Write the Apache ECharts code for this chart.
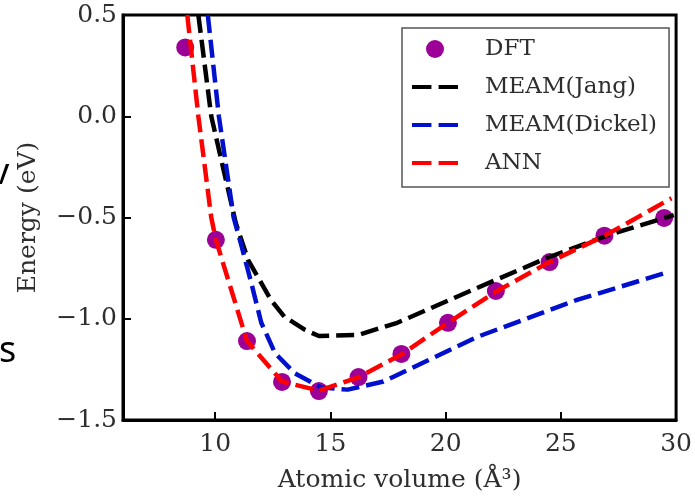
<!DOCTYPE html>
<html>
<head>
<meta charset="utf-8">
<script src="https://cdn.jsdelivr.net/npm/echarts@6/dist/echarts.min.js"></script>
<style>
  html, body { margin: 0; padding: 0; background: #fff; }
  #chart { width: 695px; height: 499px; }
</style>
</head>
<body>
<div id="chart"></div>
<script>
// values: [atomic volume, energy]
const dftPoints = [
  [8.7, 0.34], [10.03, -0.61], [11.38, -1.11], [12.9, -1.312], [14.5, -1.357], [16.22, -1.288],
  [18.08, -1.174], [20.1, -1.02], [22.18, -0.863], [24.51, -0.72], [26.89, -0.59], [29.48, -0.502]
];
const jangCurve = [
  [9.27, 0.5], [9.83, 0.0], [10.9, -0.53], [11.43, -0.71], [12.42, -0.907], [13.0, -0.99],
  [13.9, -1.055], [14.5, -1.085], [16.2, -1.08], [17.9, -1.02], [21.36, -0.848],
  [24.5, -0.695], [27.1, -0.586], [29.9, -0.488]
];
const dickelCurve = [
  [9.68, 0.5], [10.16, 0.0], [10.8, -0.5], [11.12, -0.63], [11.56, -0.82], [12.0, -1.02],
  [12.6, -1.17], [13.46, -1.27], [14.6, -1.34], [15.75, -1.35], [17.3, -1.31],
  [21.36, -1.09], [25.7, -0.907], [29.65, -0.77]
];
const annCurve = [
  [8.79, 0.5], [9.27, 0.0], [9.83, -0.5], [10.03, -0.61], [11.38, -1.11], [12.9, -1.31],
  [14.5, -1.355], [16.2, -1.29], [18.1, -1.175], [20.1, -1.02], [22.2, -0.865],
  [24.5, -0.72], [26.9, -0.59], [29.8, -0.405]
];
const xTicks = [10, 15, 20, 25, 30];
const seriesNames = ['DFT', 'MEAM(Jang)', 'MEAM(Dickel)', 'ANN'];

const serif = 'DejaVu Serif';
const textCol = '#2e2e2e';
const dash = [18, 7];
// two dashes, the way the legend handle is drawn
const dashIcon = 'path://M0,0h19v4H0z M26,0h19v4H26z';

const chart = echarts.init(document.getElementById('chart'));

function fmt(v) {
  const s = Math.abs(v).toFixed(1);
  return v < 0 ? '\u2212' + s : s;
}

function dashed(name, data, color) {
  return {
    name: name,
    type: 'line',
    data: data,
    symbol: 'none',
    color: color,
    lineStyle: { color: color, width: 4.5, type: dash },
    z: 3
  };
}

const option = {
  animation: false,
  backgroundColor: '#fff',
  grid: {
    left: 123, top: 15, right: 15, bottom: 79,
    show: true, borderColor: '#000', borderWidth: 3
  },
  xAxis: {
    type: 'value',
    min: 6, max: 30,
    name: 'Atomic volume (Å³)',
    nameLocation: 'middle',
    nameGap: 48,
    nameTextStyle: { fontFamily: serif, fontSize: 25, color: textCol },
    axisLine: { show: true, onZero: false, lineStyle: { color: '#000', width: 3 } },
    axisTick: { show: true, inside: true, length: 8, customValues: xTicks, lineStyle: { color: '#000', width: 2 } },
    axisLabel: { customValues: xTicks, fontFamily: serif, fontSize: 25, color: textCol, margin: 12 },
    splitLine: { show: false }
  },
  yAxis: {
    type: 'value',
    min: -1.5, max: 0.5, interval: 0.5,
    name: 'Energy (eV)',
    nameLocation: 'middle',
    nameGap: 82,
    nameTextStyle: { fontFamily: serif, fontSize: 25, color: textCol },
    axisLine: { show: true, onZero: false, lineStyle: { color: '#000', width: 3 } },
    axisTick: { show: true, inside: true, length: 8, lineStyle: { color: '#000', width: 2 } },
    axisLabel: { formatter: fmt, fontFamily: serif, fontSize: 25, color: textCol, margin: 6 },
    splitLine: { show: false }
  },
  legend: {
    orient: 'vertical',
    left: 402, top: 28,
    data: [
      { name: 'DFT', icon: 'circle' },
      { name: 'MEAM(Jang)', icon: dashIcon },
      { name: 'MEAM(Dickel)', icon: dashIcon },
      { name: 'ANN', icon: dashIcon }
    ],
    itemWidth: 46, itemHeight: 18,
    itemGap: 14,
    symbolKeepAspect: true,
    padding: [9, 12, 12, 10],
    borderColor: '#555', borderWidth: 1.5,
    backgroundColor: '#fff',
    textStyle: { fontFamily: serif, fontSize: 23, color: textCol, lineHeight: 24, padding: [0, 0, 0, 22] }
  },
  graphic: [
    { type: 'text', left: -9, top: 156, style: { text: 'v', fontFamily: 'Noto Sans', fontSize: 36, fill: '#000' }, silent: true },
    { type: 'text', left: -1, top: 334, style: { text: 's', fontFamily: 'Noto Sans', fontSize: 36, fill: '#000' }, silent: true }
  ],
  series: [
    {
      name: 'DFT',
      type: 'scatter',
      data: dftPoints,
      symbol: 'circle',
      symbolSize: 18,
      itemStyle: { color: '#9c0096', opacity: 1 },
      z: 2
    },
    dashed('MEAM(Jang)', jangCurve, '#000000'),
    dashed('MEAM(Dickel)', dickelCurve, '#0010cc'),
    dashed('ANN', annCurve, '#ff0000')
  ]
};

chart.setOption(option);
</script>
</body>
</html>
